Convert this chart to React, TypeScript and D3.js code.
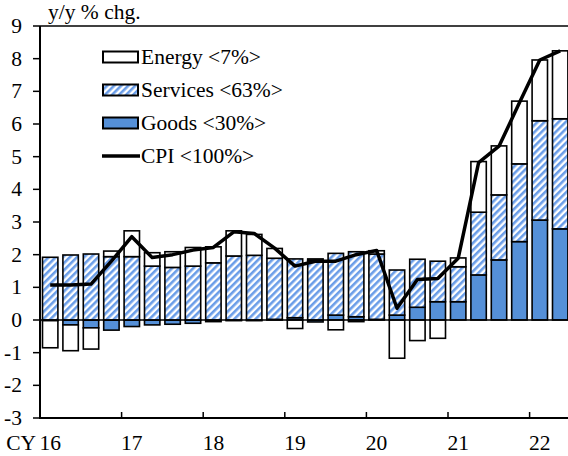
import React from "react";
import * as d3 from "d3";

const quarters = [
  "16Q1","16Q2","16Q3","16Q4","17Q1","17Q2","17Q3","17Q4",
  "18Q1","18Q2","18Q3","18Q4","19Q1","19Q2","19Q3","19Q4",
  "20Q1","20Q2","20Q3","20Q4","21Q1","21Q2","21Q3","21Q4",
  "22Q1","22Q2",
];
const goods = [
  -0.02,-0.15,-0.24,-0.31,-0.2,-0.15,-0.13,-0.1,
  -0.05,-0.02,-0.02,0.02,0.07,-0.06,0.15,0.1,
  0.02,0.15,0.39,0.56,0.56,1.38,1.84,2.4,
  3.06,2.79,
];
const services = [
  1.92,1.99,2.02,1.94,1.94,1.65,1.61,1.65,
  1.75,1.96,1.98,1.87,1.8,1.82,1.89,1.99,
  2.0,1.38,1.47,1.24,1.07,1.92,1.99,2.38,
  3.04,3.37,
];
const energy = [
  -0.83,-0.79,-0.65,0.17,0.79,0.41,0.48,0.57,
  0.49,0.77,0.64,0.3,-0.26,0.05,-0.3,-0.05,
  0.1,-1.17,-0.63,-0.56,0.27,1.55,1.5,1.92,
  1.86,2.08,
];
const cpi = [
  1.07,1.07,1.1,1.8,2.55,1.91,2.0,2.14,
  2.22,2.7,2.65,2.2,1.65,1.8,1.8,2.0,
  2.13,0.36,1.24,1.27,1.89,4.82,5.32,6.65,
  7.96,8.24,
];
const yearLabels = ["16","17","18","19","20","21","22"];
const yTicks = [-3,-2,-1,0,1,2,3,4,5,6,7,8,9];
const legendItems = [
  { key: "energy", label: "Energy <7%>" },
  { key: "services", label: "Services <63%>" },
  { key: "goods", label: "Goods <30%>" },
  { key: "cpi", label: "CPI <100%>" },
];

const W = 568, H = 456;
const L = 40, R = 570.4, T = 26, B = 418;
const FONT = "'Liberation Serif', 'Times New Roman', serif";
const FS = 21.5;
const GOODS_COLOR = "#5590d8";
const HATCH_COLOR = "#6a9de8";

export default function App() {
  const x = d3.scaleBand<string>().domain(quarters).range([L, R]).paddingInner(0.245).paddingOuter(0.1225);
  const y = d3.scaleLinear().domain([-3, 9]).range([B, T]);

  const rows = quarters.map((q, i) => ({ q, goods: goods[i], services: services[i], energy: energy[i] }));
  const stack = d3.stack<any>().keys(["goods", "services", "energy"]).offset(d3.stackOffsetDiverging);
  const series = stack(rows);
  const fills: Record<string, string> = { goods: GOODS_COLOR, services: "url(#hatch)", energy: "#ffffff" };

  const line = d3.line<number>()
    .x((_, i) => (x(quarters[i]) as number) + x.bandwidth() / 2)
    .y((d) => y(d));

  const step = x.step();
  const yearTicks = d3.range(1, yearLabels.length).map((k) => L + k * 4 * step);

  return (
    <svg width={W} height={H} style={{ position: "absolute", left: 0, top: 0 }} fontFamily={FONT}>
      <defs>
        <pattern id="hatch" patternUnits="userSpaceOnUse" width="5" height="5" patternTransform="rotate(45)">
          <rect width="5" height="5" fill="#ffffff" />
          <rect width="2.6" height="5" fill={HATCH_COLOR} />
        </pattern>
      </defs>
      <rect width={W} height={H} fill="#ffffff" />

      {/* bars */}
      {series.map((s) => (
        <g key={s.key}>
          {s.map((d, i) => {
            const y0 = y(d[0]), y1 = y(d[1]);
            const top = Math.min(y0, y1), h = Math.abs(y0 - y1);
            if (h < 0.01) return null;
            return (
              <rect key={i} x={x(quarters[i])} y={top} width={x.bandwidth()} height={h}
                fill={fills[s.key]} stroke="#000" strokeWidth={1.6} />
            );
          })}
        </g>
      ))}

      {/* frame */}
      <line x1={L} x2={W} y1={T} y2={T} stroke="#000" strokeWidth={1.5} />
      <line x1={L} x2={W} y1={y(0)} y2={y(0)} stroke="#000" strokeWidth={1.6} />
      <line x1={L} x2={L} y1={T} y2={B} stroke="#000" strokeWidth={2} />
      <line x1={L - 1} x2={W} y1={B} y2={B} stroke="#000" strokeWidth={2} />

      {/* y ticks */}
      {yTicks.map((t) => (
        <g key={t}>
          <line x1={L - 7} x2={L} y1={y(t)} y2={y(t)} stroke="#000" strokeWidth={1.5} />
          <text x={22} y={y(t) + 7} textAnchor="end" fontSize={FS}>{t}</text>
        </g>
      ))}

      {/* x ticks */}
      {yearTicks.map((tx, k) => (
        <line key={k} x1={tx} x2={tx} y1={B} y2={B - 6} stroke="#000" strokeWidth={1.5} />
      ))}
      {yearLabels.map((lab, k) => {
        const cx = (x(quarters[k * 4]) as number) + x.bandwidth() / 2;
        return (
          <text key={lab} x={cx} y={450} textAnchor="middle" fontSize={FS}>{lab}</text>
        );
      })}
      <text x={36} y={450} textAnchor="end" fontSize={FS}>CY</text>

      {/* y label */}
      <text x={48} y={19} fontSize={FS}>y/y % chg.</text>

      {/* CPI line */}
      <path d={line(cpi) || ""} fill="none" stroke="#000" strokeWidth={3.5} strokeLinejoin="round" />

      {/* legend */}
      {legendItems.map((it, k) => {
        const cy = 57 + k * 33;
        return (
          <g key={it.key}>
            {it.key === "cpi" ? (
              <line x1={102} x2={140} y1={cy} y2={cy} stroke="#000" strokeWidth={3.5} />
            ) : (
              <rect x={103} y={cy - 5.5} width={35} height={11} fill={fills[it.key]} stroke="#000" strokeWidth={2} />
            )}
            <text x={141} y={cy + 7} fontSize={FS}>{it.label}</text>
          </g>
        );
      })}
    </svg>
  );
}
